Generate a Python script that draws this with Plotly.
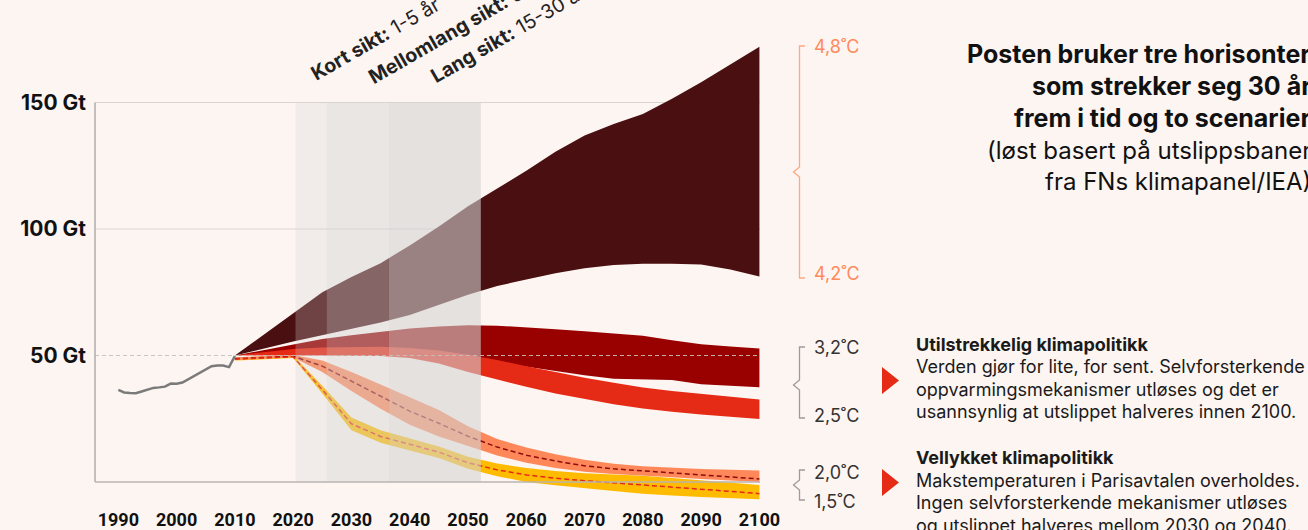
import plotly.graph_objects as go

# ---- data -------------------------------------------------------------
hist_years = list(range(1990, 2011))
hist_gt = [36.4, 35.4, 35.2, 35.1, 35.8, 36.6, 37.2, 37.4, 37.7, 38.9, 38.8,
           39.3, 40.6, 42.2, 43.5, 44.8, 45.8, 46.0, 46.0, 45.4, 49.8]

proj_years = [2010, 2020, 2025, 2030, 2035, 2040, 2045, 2050, 2055,
              2060, 2065, 2070, 2075, 2080, 2085, 2090, 2095, 2100]

brown_hi = [50, 66.5, 75, 81, 86.5, 93.5, 101, 109, 116, 123, 130.5, 137,
            141.5, 145.5, 151.5, 158, 165, 172]
brown_lo = [50, 55.5, 58, 60.5, 63, 66, 70, 74, 77.5, 80, 82.5, 84.5,
            85.8, 86.3, 86.3, 86, 84, 81.2]

darkred_hi = [50, 54.5, 56.5, 58, 59.5, 60.7, 61.5, 62, 61.8, 61.2, 60.4,
              59.6, 58.8, 57.8, 56, 54.4, 53.6, 52.8]
darkred_lo = [50, 51.5, 52, 52, 52, 51.5, 50.5, 49, 47.3, 45.8, 44, 42.2,
              40.8, 40.6, 40.3, 38.6, 38, 37.5]

red_hi = [50, 52.6, 53.2, 53.5, 53.5, 53, 52, 50.3, 48.2, 45.8, 43.4, 41.2,
          39.2, 37.4, 36, 34.8, 33.6, 32.6]
red_lo = [50, 50, 50, 50, 49.8, 49, 46.8, 43.5, 40.4, 37.6, 35, 32.8,
          30.7, 29.1, 27.8, 26.7, 25.7, 24.9]

orange_hi = [49.3, 50.2, 48, 43.5, 38.5, 33.5, 28.5, 22, 17, 13.6, 11, 8.8,
             7.2, 6.2, 5.6, 5.1, 4.8, 4.5]
orange_lo = [48.2, 49.2, 43.5, 36, 29, 22.6, 18, 14.2, 10.5, 7.6, 5.5, 4.1,
             3.2, 2.5, 1.9, 1.2, 0.5, 0]
orange_mid = [48.7, 49.7, 45.8, 39.8, 33.8, 28, 23.2, 18.1, 13.8, 10.6, 8.3,
              6.4, 5.2, 4.3, 3.6, 2.8, 2, 1.2]

yellow_hi = [49.2, 50, 38, 25.5, 20.5, 17.3, 14, 10, 7.3, 5.5, 4.3, 3.5,
             3, 2.5, 1.6, 0.6, -0.3, -1.2]
yellow_lo = [48, 49, 35, 20.5, 15.5, 12.5, 9.5, 5.2, 2.3, 0, -1.3, -2.5,
             -3.6, -4.6, -5.3, -5.9, -6.4, -6.8]
yellow_mid = [48.6, 49.5, 36.5, 23, 18, 14.9, 11.8, 7.6, 4.8, 2.8, 1.5, 0.5,
              -0.3, -1.1, -1.9, -2.7, -3.7, -4.6]

horizons = [(2020.4, 2025.75, 0.27), (2025.75, 2036.4, 0.44), (2036.4, 2052.2, 0.59)]
horizon_labels = ["<b>Kort sikt:</b> 1-5 år",
                  "<b>Mellomlang sikt:</b> 5-15 år",
                  "<b>Lang sikt:</b> 15-30 år"]

x_ticks = list(range(1990, 2101, 10))
y_ticks = [50, 100, 150]
y_ticktext = ["<b>50 Gt</b>", "<b>100 Gt</b>", "<b>150 Gt</b>"]

# ---- style ------------------------------------------------------------
_BG = "#fdf5f1"
_FONT = "Inter, Roboto, sans-serif"
_TICKFONT = "Roboto, sans-serif"
_TXT = "#1a1a1a"

W, H = 1308, 530
PL, PR, PT, PB = 95, 760, 25, 507   # plot box in pixels


def px(xp):
    return (xp - PL) / (PR - PL)


def py(yp):
    return (PB - yp) / (PB - PT)


def band(x, hi, lo, color, name):
    return go.Scatter(
        x=x + x[::-1], y=hi + lo[::-1], fill="toself", fillcolor=color,
        mode="lines", line=dict(width=0), name=name, hoverinfo="skip",
    )


fig = go.Figure()
fig.add_trace(band(proj_years, brown_hi, brown_lo, "#4a0f10", "4,2-4,8°C"))
fig.add_trace(band(proj_years, darkred_hi, darkred_lo, "#990000", "3,2°C"))
fig.add_trace(band(proj_years, red_hi, red_lo, "#e52a15", "2,5°C"))
fig.add_trace(band(proj_years, yellow_hi, yellow_lo, "#ffbb00", "1,5°C"))
fig.add_trace(band(proj_years, orange_hi, orange_lo, "#ff885a", "2,0°C"))
fig.add_trace(go.Scatter(
    x=proj_years, y=orange_mid, mode="lines",
    line=dict(color="#8e0b10", width=1.5, dash="5px,3px"), hoverinfo="skip",
))
fig.add_trace(go.Scatter(
    x=proj_years, y=yellow_mid, mode="lines",
    line=dict(color="#e8281a", width=1.5, dash="5px,3px"), hoverinfo="skip",
))
fig.add_trace(go.Scatter(
    x=hist_years, y=hist_gt, mode="lines",
    line=dict(color="#7a7a7a", width=2.5), hoverinfo="skip",
))

shapes = []
for y in (100, 150):
    shapes.append(dict(type="line", xref="paper", yref="y", x0=0, x1=1, y0=y, y1=y,
                       line=dict(color="#dbd5d2", width=1), layer="below"))
for x0, x1, a in horizons:
    shapes.append(dict(type="rect", xref="x", yref="y", x0=x0, x1=x1, y0=0, y1=150,
                       fillcolor="rgb(210,211,211)", opacity=a, line=dict(width=0),
                       layer="above"))
shapes.append(dict(type="line", xref="paper", yref="y", x0=0, x1=1, y0=50, y1=50,
                   line=dict(color="rgba(200,190,186,0.9)", width=1, dash="4px,3px"),
                   layer="above"))
shapes.append(dict(type="line", xref="paper", yref="y", x0=0, x1=0, y0=0, y1=150,
                   line=dict(color="#b0acaa", width=1.5), layer="above"))
shapes.append(dict(type="line", xref="paper", yref="y", x0=0, x1=1, y0=0, y1=0,
                   line=dict(color="#b8b4b2", width=1.5), layer="above"))


def brace(top, tip, bottom, color):
    pts = [(805, top), (799.5, top), (799.5, tip - 5), (793.5, tip),
           (799.5, tip + 5), (799.5, bottom), (805, bottom)]
    d = "M " + " L ".join(f"{px(a):.5f},{py(b):.5f}" for a, b in pts)
    return dict(type="path", xref="paper", yref="paper", path=d,
                line=dict(color=color, width=1.3), layer="above")


shapes.append(brace(46, 172, 278, "#ffa886"))
shapes.append(brace(347, 385, 418, "#a09a98"))
shapes.append(brace(470, 485, 500, "#a09a98"))

for yc in (380.5, 482.5):
    d = (f"M {px(882):.5f},{py(yc - 13.5):.5f} L {px(899):.5f},{py(yc):.5f} "
         f"L {px(882):.5f},{py(yc + 13.5):.5f} Z")
    shapes.append(dict(type="path", xref="paper", yref="paper", path=d,
                       fillcolor="#e52a15", line=dict(width=0), layer="above"))

ann = []
# rotated horizon labels
for (xl, yl), text in zip([(304, 88), (361, 91.5), (423.5, 91)], horizon_labels):
    ann.append(dict(x=px(xl), y=py(yl), xref="paper", yref="paper", text=text,
                    textangle=-30, xanchor="left", yanchor="bottom", showarrow=False,
                    font=dict(family=_FONT, size=19.5, color="#222")))

# temperature labels
for txt, yc, col in [("4,8˚C", 47, "#ff8a5c"), ("4,2˚C", 273, "#ff8a5c"),
                     ("3,2˚C", 347, "#333"), ("2,5˚C", 415, "#333"),
                     ("2,0˚C", 472.5, "#333"), ("1,5˚C", 501.5, "#333")]:
    ann.append(dict(x=px(812), y=py(yc), xref="paper", yref="paper", text=txt,
                    xanchor="left", yanchor="middle", showarrow=False,
                    font=dict(family=_FONT, size=18, color=col)))

# title block (right)
title_lines = [("<b>Posten bruker tre horisonter</b>", 54, 25),
               ("<b>som strekker seg 30 år</b>", 86, 25),
               ("<b>frem i tid og to scenarier</b>", 118, 25),
               ("(løst basert på utslippsbaner", 150, 24),
               ("fra FNs klimapanel/IEA)", 182, 24)]
for txt, yc, size in title_lines:
    ann.append(dict(x=px(1313), y=py(yc), xref="paper", yref="paper", text=txt,
                    xanchor="right", yanchor="middle", showarrow=False,
                    font=dict(family=_FONT, size=size, color="#111")))

# scenario descriptions
desc_lines = [
    ("<b>Utilstrekkelig klimapolitikk</b>", 344),
    ("Verden gjør for lite, for sent. Selvforsterkende", 366.7),
    ("oppvarmingsmekanismer utløses og det er", 389.3),
    ("usannsynlig at utslippet halveres innen 2100.", 411.7),
    ("<b>Vellykket klimapolitikk</b>", 457),
    ("Makstemperaturen i Parisavtalen overholdes.", 480),
    ("Ingen selvforsterkende mekanismer utløses", 502.5),
    ("og utslippet halveres mellom 2030 og 2040.", 525),
]
for txt, yc in desc_lines:
    ann.append(dict(x=px(914), y=py(yc), xref="paper", yref="paper", text=txt,
                    xanchor="left", yanchor="middle", showarrow=False,
                    font=dict(family=_FONT, size=18, color=_TXT)))

fig.update_layout(
    width=W, height=H,
    paper_bgcolor=_BG, plot_bgcolor=_BG,
    margin=dict(l=PL, r=W - PR, t=PT, b=H - PB, autoexpand=False),
    showlegend=False,
    shapes=shapes,
    annotations=ann,
    font=dict(family=_FONT, color=_TXT),
)
fig.update_xaxes(
    range=[1986, 2100.1], tickvals=x_ticks, showgrid=False, zeroline=False,
    showline=False, ticks="", automargin=False,
    tickfont=dict(family=_TICKFONT, size=18, color="#111", weight="bold"),
)
fig.update_yaxes(
    range=[-9.88, 180.63], tickvals=y_ticks, ticktext=y_ticktext, showgrid=False,
    zeroline=False, showline=False, ticks="", ticklabelstandoff=8, automargin=False,
    tickfont=dict(family=_FONT, size=21, color="#111"),
)

fig.write_html(
    "out.html",
    config={"displayModeBar": False},
    post_script="document.body.style.margin='0';"
                "document.body.style.background='#fdf5f1';",
)
